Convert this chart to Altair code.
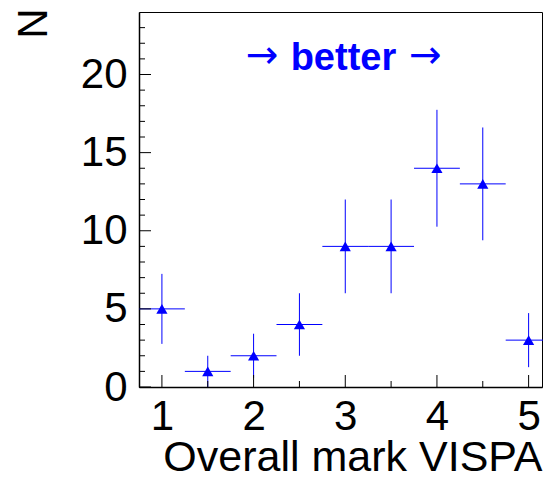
import altair as alt
import pandas as pd

# ---- data ----
bin_centers = [1.0, 1.5, 2.0, 2.5, 3.0, 3.5, 4.0, 4.5, 5.0]
counts = [5, 1, 2, 4, 9, 9, 14, 13, 3]
y_err = [2.24, 1.0, 1.41, 2.0, 3.0, 3.0, 3.74, 3.61, 1.73]
x_half = [0.25, 0.25, 0.25, 0.25, 0.25, 0.25, 0.25, 0.25, 0.25]

x_major = [1, 2, 3, 4, 5]
x_minor = [1.5, 2.5, 3.5, 4.5]
y_major = [0, 5, 10, 15, 20]
y_minor = [1, 2, 3, 4, 6, 7, 8, 9, 11, 12, 13, 14, 16, 17, 18, 19, 21, 22, 23]

arrow_text = ["\u2192", "\u2192"]
arrow_x = [2.09, 3.87]
arrow_y = [20.4, 20.4]
label_text = ["better"]
label_x = [2.98]
label_y = [20.3]

x_title = "Overall mark VISPA"
y_title = "N"

# ---- layout ----
W, H = 403, 375
BLUE = "#0000ff"
FONT = "Liberation Sans"

df = pd.DataFrame({"x": bin_centers, "y": counts, "err": y_err, "hw": x_half})
df["ylo"] = df["y"] - df["err"]
df["yhi"] = df["y"] + df["err"]
df["xlo"] = df["x"] - df["hw"]
df["xhi"] = df["x"] + df["hw"]

xscale = alt.Scale(domain=[0.75, 5.146], nice=False, zero=False)
yscale = alt.Scale(domain=[0, 24], nice=False, zero=False)

x_axis = alt.Axis(
    values=x_major, format="d", title=x_title,
    titleFont=FONT, titleFontSize=43, titleFontWeight="normal", titleColor="black",
    titleAnchor="end", titleAlign="right", titleBaseline="alphabetic",
    titleX=403, titleY=83,
    labelFont=FONT, labelFontSize=42, labelColor="black", labelPadding=9,
    labelFlush=False, labelOverlap=False,
    ticks=False, tickSize=0, grid=False,
    domainColor="black", domainWidth=1.5,
)
y_axis = alt.Axis(
    values=y_major, format="d", title=y_title,
    titleFont=FONT, titleFontSize=42, titleFontWeight="normal", titleColor="black",
    titleAngle=270, titleAlign="right", titleBaseline="alphabetic",
    titleX=-93, titleY=-4,
    labelFont=FONT, labelFontSize=42, labelColor="black", labelPadding=12,
    labelFlush=False, labelOverlap=False,
    ticks=False, tickSize=0, grid=False,
    domainColor="black", domainWidth=1.5,
)

base = alt.Chart(df)

points = base.mark_point(shape="triangle-up", filled=True, size=125, color=BLUE, opacity=1).encode(
    x=alt.X("x:Q", scale=xscale, axis=x_axis),
    y=alt.Y("y:Q", scale=yscale, axis=y_axis),
)
vbars = base.mark_rule(color=BLUE, strokeWidth=1).encode(
    x=alt.X("x:Q", scale=xscale),
    y=alt.Y("ylo:Q", scale=yscale),
    y2="yhi:Q",
)
hbars = base.mark_rule(color=BLUE, strokeWidth=1).encode(
    x=alt.X("xlo:Q", scale=xscale),
    x2="xhi:Q",
    y=alt.Y("y:Q", scale=yscale),
)

# inside ticks (ROOT style)
ymaj = alt.Chart(pd.DataFrame({"v": y_major})).mark_rule(color="black", strokeWidth=1).encode(
    y=alt.Y("v:Q", scale=yscale), x=alt.value(0), x2=alt.value(12))
ymin = alt.Chart(pd.DataFrame({"v": y_minor})).mark_rule(color="black", strokeWidth=1).encode(
    y=alt.Y("v:Q", scale=yscale), x=alt.value(0), x2=alt.value(6))
xmaj = alt.Chart(pd.DataFrame({"v": x_major})).mark_rule(color="black", strokeWidth=1).encode(
    x=alt.X("v:Q", scale=xscale), y=alt.value(H), y2=alt.value(H - 12))
xmin = alt.Chart(pd.DataFrame({"v": x_minor})).mark_rule(color="black", strokeWidth=1).encode(
    x=alt.X("v:Q", scale=xscale), y=alt.value(H), y2=alt.value(H - 6))

arrows = alt.Chart(pd.DataFrame({"t": arrow_text, "x": arrow_x, "y": arrow_y})).mark_text(
    font="DejaVu Sans", fontSize=39, fontWeight="normal", color=BLUE, align="center", baseline="alphabetic"
).encode(x=alt.X("x:Q", scale=xscale), y=alt.Y("y:Q", scale=yscale), text="t:N")
better = alt.Chart(pd.DataFrame({"t": label_text, "x": label_x, "y": label_y})).mark_text(
    font=FONT, fontSize=38, fontWeight="bold", color=BLUE, align="center", baseline="alphabetic"
).encode(x=alt.X("x:Q", scale=xscale), y=alt.Y("y:Q", scale=yscale), text="t:N")

chart = alt.layer(points, vbars, hbars, ymaj, ymin, xmaj, xmin, arrows, better).properties(
    width=W, height=H,
    autosize=alt.AutoSizeParams(type="none"),
    padding={"left": 131, "top": 4, "right": 1, "bottom": 85},
    background="white",
).configure_view(stroke="black", strokeWidth=1)

chart.save("out.html", embed_options={"renderer": "svg", "actions": False})
